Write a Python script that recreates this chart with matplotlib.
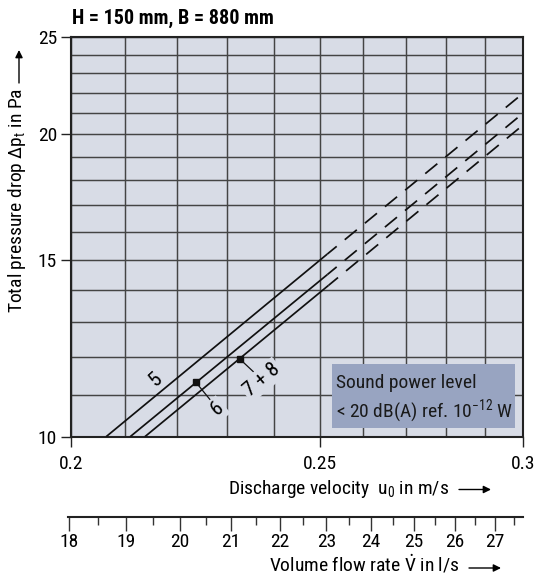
import matplotlib
matplotlib.use("Agg")
import matplotlib.pyplot as plt
from matplotlib import font_manager as fm
from matplotlib.patches import Rectangle
from matplotlib.ticker import FixedLocator, FixedFormatter, NullFormatter

names = sorted({f.name for f in fm.fontManager.ttflist})
cands = ["Roboto Condensed", "Liberation Sans Narrow", "DejaVu Sans Condensed",
         "Liberation Sans"]
MAIN = next((c for c in cands if c in names), "DejaVu Sans")
FONT = [MAIN, "DejaVu Sans"]
plt.rcParams["font.family"] = FONT
plt.rcParams["mathtext.fontset"] = "custom"
plt.rcParams["mathtext.rm"] = MAIN
plt.rcParams["mathtext.it"] = MAIN + ":italic"
plt.rcParams["mathtext.bf"] = MAIN + ":bold"

# ---------------- data ----------------
title = "H = 150 mm, B = 880 mm"
curve_names = ["5", "6", "7 + 8"]
u_solid_start = [0.2064, 0.2109, 0.2137]
dp_solid_start = [10.0, 10.0, 10.0]
u_solid_end = [0.2517, 0.2517, 0.2520]
dp_solid_end = [15.2, 14.5, 14.15]
u_dash_end = [0.30, 0.30, 0.30]
dp_dash_end = [21.97, 20.99, 20.43]

marker_u = [0.2237, 0.2327]          # points on curves 6 and 7+8
marker_dp = [11.33, 11.95]
label_u = [0.2157, 0.2281, 0.2374]   # label anchors for 5, 6, 7+8
label_dp = [11.39, 10.66, 11.39]

x_major = [0.2, 0.25, 0.3]
x_major_labels = ["0.2", "0.25", "0.3"]
x_grid = [0.21, 0.22, 0.23, 0.24, 0.26, 0.27, 0.28, 0.29]
y_major = [10, 15, 20, 25]
y_major_labels = ["10", "15", "20", "25"]
y_grid = [11, 12, 13, 14, 16, 17, 18, 19, 21, 22, 23, 24]

flow_major = [18, 19, 20, 21, 22, 23, 24, 25, 26, 27]
flow_minor = [18.5, 19.5, 20.5, 21.5, 22.5, 23.5, 24.5, 25.5, 26.5, 27.5]
flow_limits = [17.973, 27.75]

# ---------------- layout ----------------
W, H = 537, 579
DPI = 100
BG = "#d8dce6"
BOX = "#98a4c1"
GRID = "#444444"
FS = 14

def fx(x):
    return x / W

def fy(y):
    return 1 - y / H

fig = plt.figure(figsize=(W / DPI, H / DPI), dpi=DPI)
ax = fig.add_axes([fx(71), fy(436.7), (523 - 71) / W, (436.7 - 37) / H])
ax.set_facecolor(BG)
ax.set_xscale("log")
ax.set_yscale("log")
ax.set_xlim(0.2, 0.3)
ax.set_ylim(10, 25)

ax.xaxis.set_major_locator(FixedLocator(x_major))
ax.xaxis.set_major_formatter(FixedFormatter(x_major_labels))
ax.xaxis.set_minor_locator(FixedLocator(x_grid))
ax.xaxis.set_minor_formatter(NullFormatter())
ax.yaxis.set_major_locator(FixedLocator(y_major))
ax.yaxis.set_major_formatter(FixedFormatter(y_major_labels))
ax.yaxis.set_minor_locator(FixedLocator(y_grid))
ax.yaxis.set_minor_formatter(NullFormatter())

ax.tick_params(which="major", length=7, width=1.0, color="#222222",
               labelsize=FS, direction="out")
ax.tick_params(axis="x", which="major", pad=6)
ax.tick_params(axis="y", which="major", pad=3)
ax.tick_params(which="minor", length=0)
ax.set_axisbelow(True)
ax.grid(True, which="both", color=GRID, lw=1.05)
for s in ax.spines.values():
    s.set_linewidth(1.5)
    s.set_color("#222222")

# curves
for i in range(3):
    ax.plot([u_solid_start[i], u_solid_end[i]], [dp_solid_start[i], dp_solid_end[i]],
            color="#111111", lw=1.25, zorder=4, solid_capstyle="butt")
    ax.plot([u_solid_end[i], u_dash_end[i]], [dp_solid_end[i], dp_dash_end[i]],
            color="#111111", lw=1.25, zorder=4, linestyle=(2, (9, 6)),
            dash_capstyle="butt")

ax.plot(marker_u, marker_dp, "s", color="#111111", ms=4, zorder=5)

LFS = 15
bbox_bg = dict(facecolor=BG, edgecolor="none", pad=1.5)
ax.text(label_u[0], label_dp[0], curve_names[0], rotation=42, fontsize=LFS,
        ha="center", va="center", zorder=3, bbox=bbox_bg)
for k, idx in enumerate([1, 2]):
    ax.annotate(curve_names[idx], xy=(marker_u[k], marker_dp[k]),
                xytext=(label_u[idx], label_dp[idx]), rotation=40, fontsize=LFS,
                ha="center", va="center", zorder=3, bbox=bbox_bg,
                arrowprops=dict(arrowstyle="-", lw=0.9, color="#111111",
                                shrinkA=0, shrinkB=0))

# sound power box
rect = Rectangle((fx(332), fy(428)), (515 - 332) / W, (428 - 364) / H,
                 transform=fig.transFigure, facecolor=BOX, edgecolor="none", zorder=3)
ax.add_patch(rect)
fig.text(fx(336.5), fy(383), "Sound power level", fontsize=FS, ha="left",
         va="center", color="#1a1a1a", zorder=6)
fig.text(fx(336.5), fy(411.5), r"< 20 dB(A) ref. 10$^{-12}$ W", fontsize=FS,
         ha="left", va="center", color="#1a1a1a", zorder=6)

# title
fig.text(fx(72), fy(18.5), title, fontsize=14.5, fontweight="bold", ha="left",
         va="center")

# y label + arrow
fig.text(fx(17.5), fy(88), r"Total pressure drop Δ$\mathrm{p}_\mathrm{t}$ in Pa",
         rotation=90, fontsize=FS, ha="center", va="top")
arrow_kw = dict(arrowstyle="-|>", lw=1.0, color="black", mutation_scale=11,
                shrinkA=0, shrinkB=0)
ax.annotate("", xy=(fx(19), fy(50)), xytext=(fx(19), fy(83)),
            xycoords="figure fraction", textcoords="figure fraction",
            arrowprops=arrow_kw, annotation_clip=False)

# x label + arrow
fig.text(fx(449), fy(489), r"Discharge velocity  u$_0$ in m/s", fontsize=FS,
         ha="right", va="center")
ax.annotate("", xy=(fx(491), fy(489.5)), xytext=(fx(459), fy(489.5)),
            xycoords="figure fraction", textcoords="figure fraction",
            arrowprops=arrow_kw, annotation_clip=False)

# secondary flow-rate axis
ax2 = fig.add_axes([fx(67.7), fy(516.5), (523.3 - 67.7) / W, 0.0001])
ax2.set_xscale("log")
ax2.set_xlim(*flow_limits)
ax2.patch.set_visible(False)
for side in ["top", "left", "right"]:
    ax2.spines[side].set_visible(False)
ax2.spines["bottom"].set_linewidth(1.5)
ax2.spines["bottom"].set_color("#222222")
ax2.set_yticks([])
ax2.xaxis.set_major_locator(FixedLocator(flow_major))
ax2.xaxis.set_major_formatter(FixedFormatter([str(v) for v in flow_major]))
ax2.xaxis.set_minor_locator(FixedLocator(flow_minor))
ax2.xaxis.set_minor_formatter(NullFormatter())
ax2.tick_params(axis="x", which="major", length=10, width=1.0, color="#333333",
                labelsize=FS, pad=2)
ax2.tick_params(axis="x", which="minor", length=6, width=1.0, color="#333333")

fig.text(fx(460), fy(564), r"Volume flow rate $\dot{\mathrm{V}}$ in l/s", fontsize=FS,
         ha="right", va="center")
ax.annotate("", xy=(fx(501), fy(568)), xytext=(fx(469), fy(568)),
            xycoords="figure fraction", textcoords="figure fraction",
            arrowprops=arrow_kw, annotation_clip=False)

fig.savefig("out.png", dpi=DPI)
